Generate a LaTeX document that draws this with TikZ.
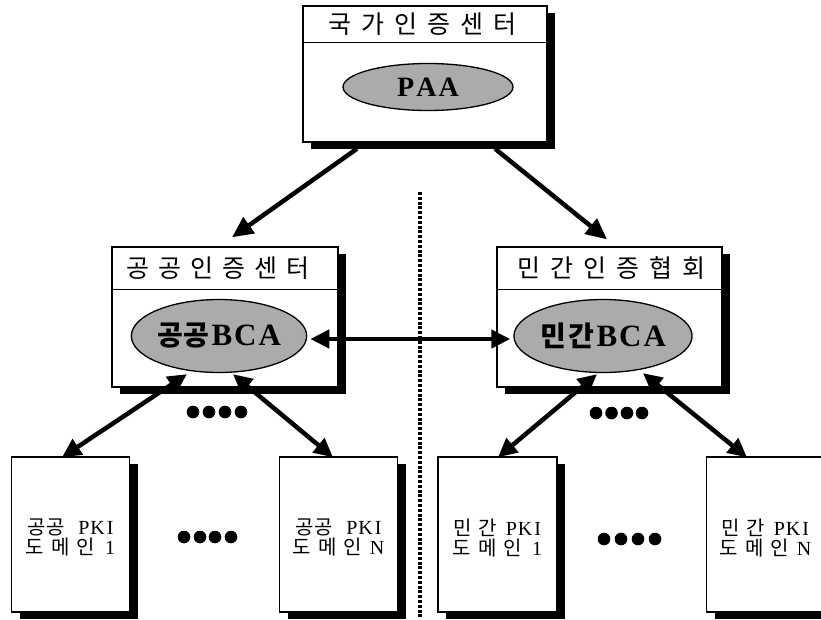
\documentclass[tikz,border=0pt]{standalone}
\usepackage{fontspec}
\setmainfont{Liberation Serif}
\newfontfamily\kr{Noto Sans CJK KR}
\usetikzlibrary{arrows.meta,calc,shadows,shapes.geometric}

\tikzset{
 box/.style={draw=black, line width=1.4pt, fill=white, rectangle, inner sep=0pt,
   drop shadow={shadow xshift=8pt, shadow yshift=-7pt, fill=black, opacity=1}},
 ell/.style={draw=black, line width=1.3pt, fill=black!33, ellipse, inner sep=0pt,
   font=\fontsize{31}{33}\selectfont\bfseries},
 ttl/.style={inner sep=0pt, font=\kr\fontsize{25}{27}\selectfont},
 dom/.style={inner sep=0pt, align=center, font=\fontsize{20}{20}\selectfont},
 arr/.style={line width=4.5pt, -{Triangle[length=21pt,width=19pt]}},
 darr/.style={line width=4.5pt, {Triangle[length=19pt,width=18pt]}-{Triangle[length=19pt,width=18pt]}},
 divider/.style={line width=3.2pt, dash pattern=on 3pt off 1.8pt},
 sepline/.style={line width=1.4pt},
 bigdot/.style={fill=black},
}

\begin{document}
\begin{tikzpicture}[x=1pt,y=-1pt]
\useasboundingbox (0,0) rectangle (821,619);
\clip (0,0) rectangle (821,619);

% divider
\coordinate (dtop) at (420,192);
\coordinate (dbot) at (420,619);
\draw[divider] (dtop) -- (dbot);

% top box
\node[box, minimum width=244pt, minimum height=136pt] (top) at (425,74) {};
\draw[sepline] ($(top.north west)+(0,37)$) -- ($(top.north east)+(0,37)$);
\node[ttl] (toptitle) at ($(top.north)+(-3,19)$) {국\hspace{10pt}가\hspace{10pt}인\hspace{10pt}증\hspace{10pt}센\hspace{10pt}터};
\node[ell, minimum width=170pt, minimum height=47pt, font=\fontsize{28}{30}\selectfont\bfseries] (paa) at (428,87) {P\hspace{2pt}A\hspace{2pt}A};

% middle left
\node[box, minimum width=226pt, minimum height=140pt] (ml) at (225,317) {};
\draw[sepline] ($(ml.north west)+(0,43)$) -- ($(ml.north east)+(0,43)$);
\node[ttl] (mltitle) at ($(ml.north)+(-7,22)$) {공\hspace{9pt}공\hspace{9pt}인\hspace{9pt}증\hspace{9pt}센\hspace{9pt}터};
\node[ell, minimum width=170pt, minimum height=73pt] (lbca) at (219,336) {{\kr\fontsize{28}{30}\selectfont 공\hspace{1pt}공}\hspace{2pt}B\hspace{2pt}C\hspace{2pt}A};

% middle right
\node[box, minimum width=225pt, minimum height=140pt] (mr) at (609.5,317) {};
\draw[sepline] ($(mr.north west)+(0,43)$) -- ($(mr.north east)+(0,43)$);
\node[ttl] (mrtitle) at ($(mr.north)+(1.5,22)$) {민\hspace{10pt}간\hspace{10pt}인\hspace{10pt}증\hspace{10pt}협\hspace{10pt}회};
\node[ell, minimum width=172pt, minimum height=73pt] (rbca) at (603,336) {{\kr\fontsize{28}{30}\selectfont 민\hspace{3pt}간}\hspace{2pt}B\hspace{2pt}C\hspace{2pt}A};

% bottom boxes
\node[box, minimum width=118pt, minimum height=155pt] (b1) at (70.5,534.5) {};
\node[box, minimum width=118pt, minimum height=155pt] (b2) at (338.5,534.5) {};
\node[box, minimum width=119pt, minimum height=155pt] (b3) at (497.5,534.5) {};
\node[box, minimum width=118pt, minimum height=155pt] (b4) at (765.5,534.5) {};
\node[dom] (t1) at ($(b1)+(0,3)$) {{\kr 공\hspace{1pt}공}\hspace{13pt}P\hspace{1pt}K\hspace{2pt}I\\{\kr 도\hspace{7pt}메\hspace{7pt}인}\hspace{10pt}1};
\node[dom] (t2) at ($(b2)+(0,3)$) {{\kr 공\hspace{1pt}공}\hspace{13pt}P\hspace{1pt}K\hspace{2pt}I\\{\kr 도\hspace{7pt}메\hspace{7pt}인}\hspace{8pt}N};
\node[dom] (t3) at ($(b3)+(0,3)$) {{\kr 민\hspace{6pt}간}\hspace{9pt}P\hspace{1pt}K\hspace{2pt}I\\{\kr 도\hspace{7pt}메\hspace{7pt}인}\hspace{10pt}1};
\node[dom] (t4) at ($(b4)+(0,3)$) {{\kr 민\hspace{6pt}간}\hspace{9pt}P\hspace{1pt}K\hspace{2pt}I\\{\kr 도\hspace{7pt}메\hspace{7pt}인}\hspace{8pt}N};

% arrows from top
\draw[arr] ($(top.south)+(-68,6)$) -- ($(ml.north)+(7,-9)$);
\draw[arr] ($(top.south)+(70,6)$) -- ($(mr.north)+(-2.5,-7)$);

% BCA cross link
\draw[darr] ($(lbca.east)+(3,3)$) -- ($(rbca.west)+(-3,3)$);

% BCA to domains
\draw[darr] ($(lbca.south)+(-32,1)$) -- ($(b1.north)+(-8.5,1)$);
\draw[darr] ($(lbca.south)+(14,1)$) -- ($(b2.north)+(-5.5,1)$);
\draw[darr] ($(rbca.south)+(-6,1)$) -- ($(b3.north)+(0.5,1)$);
\draw[darr] ($(rbca.south)+(40,0)$) -- ($(b4.north)+(-18.5,1)$);

% ellipsis dots
\foreach \x in {193,209,225,241} \fill[bigdot] (\x,412) circle[radius=6.3pt];
\foreach \x in {596,611.5,627,642} \fill[bigdot] (\x,413) circle[radius=6.3pt];
\foreach \x in {184,200,215,231} \fill[bigdot] (\x,537) circle[radius=6.3pt];
\foreach \x in {604,621,638,655} \fill[bigdot] (\x,539) circle[radius=6.3pt];
\end{tikzpicture}
\end{document}
